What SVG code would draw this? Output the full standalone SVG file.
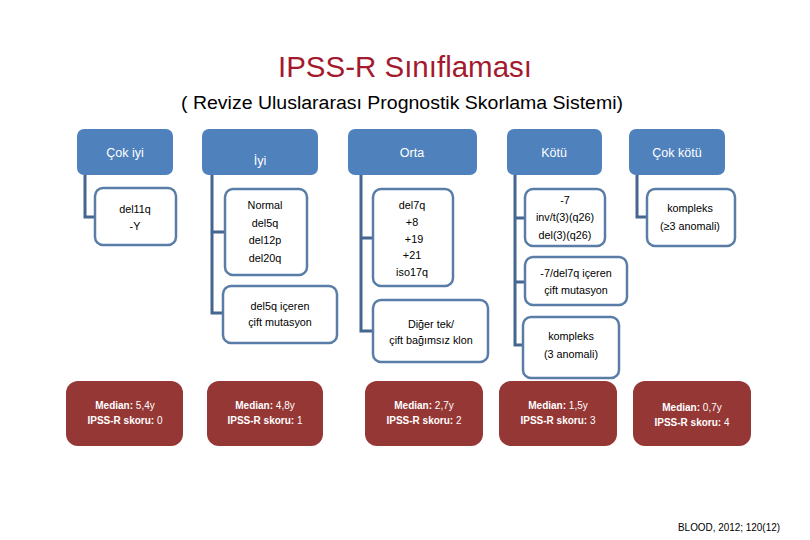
<svg xmlns="http://www.w3.org/2000/svg" width="810" height="540" viewBox="0 0 810 540">
<style>
  text { font-family: "Liberation Sans", Arial, sans-serif; text-anchor: middle; }
  .title { fill: #A31A2E; font-size: 29px; }
  .sub { fill: #000; font-size: 18px; }
  .hdr { fill: #4F81BD; }
  .hdrt { fill: #fff; font-size: 12.5px; }
  .child { fill: #fff; stroke: #5A7DA8; stroke-width: 2.5; }
  .ct { fill: #000; font-size: 10.8px; }
  .med { fill: #953735; }
  .mt { fill: #fff; font-size: 10px; }
  .conn { fill: none; stroke: #44668F; stroke-width: 3; }
  .cite { fill: #000; font-size: 10.5px; text-anchor: start; }
</style>
<rect width="810" height="540" fill="#fff"/>
<text class="title" x="405" y="77" textLength="254" lengthAdjust="spacingAndGlyphs">IPSS-R Sınıflaması</text>
<text class="sub" x="402" y="109" textLength="442" lengthAdjust="spacingAndGlyphs">( Revize Uluslararası Prognostik Skorlama Sistemi)</text>

<g id="connectors">
  <path class="conn" d="M85 175 V217 H95"/>
  <path class="conn" d="M212 175 V313 H223 M212 232 H225"/>
  <path class="conn" d="M361 175 V331 H373 M361 238 H373"/>
  <path class="conn" d="M515 175 V345 H523 M515 218 H525 M515 282 H525"/>
  <path class="conn" d="M637 175 V217 H647"/>
</g>

<g id="col1-header"><rect class="hdr" x="77" y="129" width="96" height="46" rx="7"/><text class="hdrt" x="125" y="157">Çok iyi</text></g>
<g id="col1-box1"><rect class="child" x="95" y="188" width="81" height="57" rx="8"/><text class="ct" x="135" y="213">del11q</text><text class="ct" x="135" y="230">-Y</text></g>
<g id="col1-median"><rect class="med" x="66" y="381" width="117" height="65" rx="12"/><text class="mt" x="125" y="409"><tspan font-weight="bold">Median:</tspan> 5,4y</text><text class="mt" x="125" y="424"><tspan font-weight="bold">IPSS-R skoru:</tspan> 0</text></g>

<g id="col2-header"><rect class="hdr" x="202" y="129" width="116" height="46" rx="7"/><text class="hdrt" x="260" y="165">İyi</text></g>
<g id="col2-box1"><rect class="child" x="225" y="189" width="82" height="86" rx="8"/><text class="ct" x="265" y="209">Normal</text><text class="ct" x="265" y="227">del5q</text><text class="ct" x="265" y="244">del12p</text><text class="ct" x="265" y="262">del20q</text></g>
<g id="col2-box2"><rect class="child" x="223" y="286" width="114" height="57" rx="8"/><text class="ct" x="280" y="310">del5q içeren</text><text class="ct" x="280" y="326">çift mutasyon</text></g>
<g id="col2-median"><rect class="med" x="207" y="381" width="116" height="65" rx="12"/><text class="mt" x="265" y="409"><tspan font-weight="bold">Median:</tspan> 4,8y</text><text class="mt" x="265" y="424"><tspan font-weight="bold">IPSS-R skoru:</tspan> 1</text></g>

<g id="col3-header"><rect class="hdr" x="348" y="129" width="129" height="46" rx="7"/><text class="hdrt" x="412" y="157">Orta</text></g>
<g id="col3-box1"><rect class="child" x="373" y="189" width="80" height="97" rx="8"/><text class="ct" x="412" y="209">del7q</text><text class="ct" x="412" y="226">+8</text><text class="ct" x="414" y="243">+19</text><text class="ct" x="412" y="259">+21</text><text class="ct" x="412" y="276">iso17q</text></g>
<g id="col3-box2"><rect class="child" x="373" y="300" width="115" height="62" rx="8"/><text class="ct" x="431" y="328">Diğer  tek/</text><text class="ct" x="431" y="344">çift bağımsız klon</text></g>
<g id="col3-median"><rect class="med" x="365" y="381" width="118" height="65" rx="12"/><text class="mt" x="424" y="409"><tspan font-weight="bold">Median:</tspan> 2,7y</text><text class="mt" x="424" y="424"><tspan font-weight="bold">IPSS-R skoru:</tspan> 2</text></g>

<g id="col4-header"><rect class="hdr" x="507" y="129" width="95" height="46" rx="7"/><text class="hdrt" x="554" y="157">Kötü</text></g>
<g id="col4-box1"><rect class="child" x="525" y="189" width="80" height="57" rx="8"/><text class="ct" x="565" y="204">-7</text><text class="ct" x="565" y="221">inv/t(3)(q26)</text><text class="ct" x="565" y="239">del(3)(q26)</text></g>
<g id="col4-box2"><rect class="child" x="525" y="257" width="102" height="48" rx="8"/><text class="ct" x="576" y="277">-7/del7q içeren</text><text class="ct" x="576" y="294">çift mutasyon</text></g>
<g id="col4-box3"><rect class="child" x="523" y="317" width="96" height="61" rx="8"/><text class="ct" x="571" y="340">kompleks</text><text class="ct" x="571" y="358">(3 anomali)</text></g>
<g id="col4-median"><rect class="med" x="499" y="381" width="118" height="65" rx="12"/><text class="mt" x="558" y="409"><tspan font-weight="bold">Median:</tspan> 1,5y</text><text class="mt" x="558" y="424"><tspan font-weight="bold">IPSS-R skoru:</tspan> 3</text></g>

<g id="col5-header"><rect class="hdr" x="629" y="129" width="96" height="46" rx="7"/><text class="hdrt" x="677" y="157">Çok kötü</text></g>
<g id="col5-box1"><rect class="child" x="647" y="189" width="88" height="57" rx="8"/><text class="ct" x="690" y="212">kompleks</text><text class="ct" x="690" y="230">(≥3 anomali)</text></g>
<g id="col5-median"><rect class="med" x="633" y="381" width="118" height="65" rx="12"/><text class="mt" x="692" y="411"><tspan font-weight="bold">Median:</tspan> 0,7y</text><text class="mt" x="692" y="426"><tspan font-weight="bold">IPSS-R skoru:</tspan> 4</text></g>

<text class="cite" x="678" y="531" textLength="102" lengthAdjust="spacingAndGlyphs">BLOOD, 2012; 120(12)</text>
</svg>
